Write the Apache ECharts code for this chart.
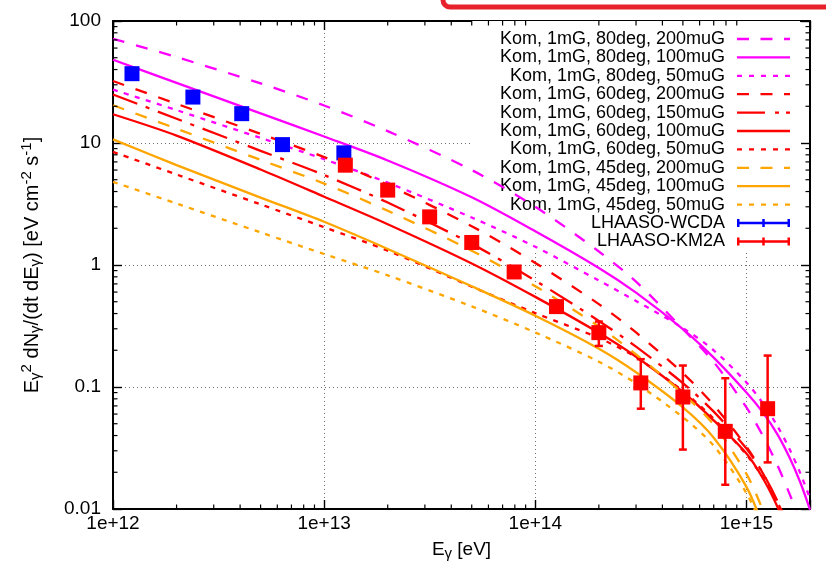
<!DOCTYPE html>
<html>
<head>
<meta charset="utf-8">
<script src="https://cdn.jsdelivr.net/npm/echarts@6/dist/echarts.min.js"></script>
<style>
html,body{margin:0;padding:0;background:#fff;}
#chart{width:826px;height:573px;}
</style>
</head>
<body>
<div id="chart"></div>
<script>
// ---- data ----
const energies = [1e12, 2e12, 5e12, 1e13, 2e13, 5e13, 1e14, 2e14, 3e14, 5e14, 7e14, 1e15, 1.2e15, 1.4e15, 1.6e15, 1.8e15, 2e15];

const kom80_200 = [71.5, 50.6, 30.8, 20.3, 12.5, 6.0, 3.0, 1.29, 0.73, 0.299, 0.160, 0.068, 0.0394, 0.023, 0.0133, 0.0080, 0.0047];
const kom80_100 = [48.1, 31.1, 17.5, 11.3, 7.19, 3.59, 1.89, 0.945, 0.593, 0.298, 0.174, 0.090, 0.0614, 0.0411, 0.0264, 0.0165, 0.0099];
const kom80_50  = [27.4, 18.6, 11.0, 7.36, 4.73, 2.45, 1.41, 0.746, 0.507, 0.304, 0.200, 0.109, 0.073, 0.048, 0.031, 0.0196, 0.0122];
const kom60_200 = [32.2, 20.96, 11.88, 7.67, 4.53, 2.08, 1.04, 0.478, 0.280, 0.130, 0.071, 0.0324, 0.0194, 0.0113, 0.0064, 0.0035, 0.0019];
const kom60_150 = [25, 15.8, 8.63, 5.46, 3.25, 1.49, 0.745, 0.348, 0.214, 0.1075, 0.0628, 0.0313, 0.0195, 0.0117, 0.0068, 0.0038, 0.002];
const kom60_100 = [17.2, 11.5, 6.06, 3.63, 2.16, 1.03, 0.548, 0.278, 0.177, 0.091, 0.0532, 0.0285, 0.0177, 0.0105, 0.006, 0.0033, 0.0018];
const kom60_50  = [8.45, 5.52, 3.14, 2.04, 1.31, 0.664, 0.403, 0.252, 0.175, 0.0925, 0.055, 0.0279, 0.018, 0.0114, 0.0069, 0.004, 0.0023];
const kom45_200 = [20.4, 13.1, 7.27, 4.65, 2.78, 1.31, 0.67, 0.313, 0.185, 0.0882, 0.049, 0.0194, 0.0097, 0.005, 0.0025, 0.0013, 0.0007];
const kom45_100 = [10.7, 6.59, 3.57, 2.26, 1.354, 0.669, 0.384, 0.206, 0.132, 0.068, 0.0384, 0.0152, 0.0073, 0.0037, 0.0018, 0.0009, 0.0005];
const kom45_50  = [4.8, 3.19, 1.85, 1.23, 0.823, 0.458, 0.280, 0.161, 0.107, 0.0565, 0.033, 0.0135, 0.0067, 0.0033, 0.0016, 0.0008, 0.0004];

const wcdaE  = [1.23e12, 2.39e12, 4.07e12, 6.35e12, 1.24e13];
const wcdaV  = [37.0, 23.8, 17.4, 9.7, 8.3];
const wcdaLo = [35.5, 22.8, 16.6, 9.2, 7.8];
const wcdaHi = [38.5, 24.8, 18.2, 10.2, 8.8];

const km2aE  = [1.26e13, 2.0e13, 3.16e13, 5.0e13, 7.94e13, 1.26e14, 2.0e14, 3.16e14, 5.0e14, 7.94e14, 1.26e15];
const km2aV  = [6.58, 4.11, 2.48, 1.53, 0.877, 0.456, 0.279, 0.108, 0.0828, 0.0433, 0.0664];
const km2aLo = [6.2, 3.9, 2.35, 1.45, 0.83, 0.42, 0.217, 0.0664, 0.0307, 0.0158, 0.0241];
const km2aHi = [7.0, 4.35, 2.62, 1.62, 0.93, 0.50, 0.344, 0.169, 0.150, 0.118, 0.181];

const xTickLabels = ['1e+12', '1e+13', '1e+14', '1e+15'];
const yTickLabels = ['0.01', '0.1', '1', '10', '100'];
const mantissas = [2, 3, 4, 5, 6, 7, 8, 9];

// ---- build ----
const FONT = "'Liberation Sans', Arial, Helvetica, sans-serif";
const MAG = '#ff00ff', RED = '#ff0000', ORA = '#ffa500', BLUE = '#0000ff';
const DASH = [12, 12], DOT = [5, 6.5], DASHDOT = [26, 9, 4, 9];

function iconPath(segs, t) {
  return 'path://' + segs.map(s => 'M' + s[0] + ',0L' + s[1] + ',0L' + s[1] + ',' + t + 'L' + s[0] + ',' + t + 'Z').join(' ');
}
const ICON_SOLID = iconPath([[0, 53]], 2.3);
const ICON_DASH = iconPath([[0, 12], [23.5, 35.5], [47, 53]], 2.3);
const ICON_DOT = iconPath([[0, 5], [12, 17], [24, 29], [36, 41], [48, 53]], 2.3);
const ICON_DASHDOT = iconPath([[0, 28], [38, 42], [49, 53]], 2.3);
const ICON_ERR = 'path://M0,2.75L53,2.75L53,5.25L0,5.25Z M0,0L2.5,0L2.5,8L0,8Z M25.25,0L27.75,0L27.75,8L25.25,8Z M50.5,0L53,0L53,8L50.5,8Z';

function curve(name, vals, color, dash) {
  return {
    type: 'line', name: name,
    data: energies.map((e, i) => [e, vals[i]]),
    symbol: 'none', showSymbol: false, smooth: 0.3, clip: true,
    lineStyle: { color: color, width: 2.3, type: dash },
    itemStyle: { color: color },
    z: 2, silent: true
  };
}

const xMinor = [];
for (let d = 12; d <= 15; d++) mantissas.forEach(m => { const v = m * Math.pow(10, d); if (v < 1.99e15) xMinor.push(v); });
const yMinor = [];
for (let d = -2; d <= 1; d++) mantissas.forEach(m => yMinor.push(m * Math.pow(10, d)));

function errBars(E, lo, hi, color) {
  return {
    type: 'custom', silent: true, z: 3,
    data: E.map((e, i) => [e, lo[i], hi[i]]),
    encode: { x: 0, y: [1, 2] },
    renderItem: function (params, api) {
      const e = api.value(0);
      const a = api.coord([e, api.value(1)]);
      const b = api.coord([e, api.value(2)]);
      const w = 4, st = { stroke: color, lineWidth: 2.5 };
      return { type: 'group', children: [
        { type: 'line', shape: { x1: a[0], y1: a[1], x2: b[0], y2: b[1] }, style: st },
        { type: 'line', shape: { x1: a[0] - w, y1: a[1], x2: a[0] + w, y2: a[1] }, style: st },
        { type: 'line', shape: { x1: b[0] - w, y1: b[1], x2: b[0] + w, y2: b[1] }, style: st }
      ] };
    }
  };
}

function minorTicks(vals, isX) {
  return {
    type: 'custom', silent: true, z: 5, clip: false,
    data: vals.map(v => isX ? [v, 1] : [1e13, v]),
    renderItem: function (params, api) {
      const cs = params.coordSys;
      const p = api.coord([api.value(0), api.value(1)]);
      const L = 4.5, st = { stroke: '#000', lineWidth: 1.2 };
      if (isX) {
        return { type: 'group', children: [
          { type: 'line', shape: { x1: p[0], y1: cs.y + cs.height, x2: p[0], y2: cs.y + cs.height - L }, style: st },
          { type: 'line', shape: { x1: p[0], y1: cs.y, x2: p[0], y2: cs.y + L }, style: st }
        ] };
      }
      return { type: 'group', children: [
        { type: 'line', shape: { x1: cs.x, y1: p[1], x2: cs.x + L, y2: p[1] }, style: st },
        { type: 'line', shape: { x1: cs.x + cs.width, y1: p[1], x2: cs.x + cs.width - L, y2: p[1] }, style: st }
      ] };
    }
  };
}

function decadeLabel(v, labels, minExp) {
  const l = Math.log10(v), r = Math.round(l);
  if (Math.abs(l - r) > 1e-6) return '';
  return labels[r - minExp] || '';
}

const names = [
  'Kom, 1mG, 80deg, 200muG', 'Kom, 1mG, 80deg, 100muG', 'Kom, 1mG, 80deg, 50muG',
  'Kom, 1mG, 60deg, 200muG', 'Kom, 1mG, 60deg, 150muG', 'Kom, 1mG, 60deg, 100muG', 'Kom, 1mG, 60deg, 50muG',
  'Kom, 1mG, 45deg, 200muG', 'Kom, 1mG, 45deg, 100muG', 'Kom, 1mG, 45deg, 50muG'
];
const icons = [ICON_DASH, ICON_SOLID, ICON_DOT, ICON_DASH, ICON_DASHDOT, ICON_SOLID, ICON_DOT, ICON_DASH, ICON_SOLID, ICON_DOT];

const series = [
  curve(names[0], kom80_200, MAG, DASH),
  curve(names[1], kom80_100, MAG, 'solid'),
  curve(names[2], kom80_50, MAG, DOT),
  curve(names[3], kom60_200, RED, DASH),
  curve(names[4], kom60_150, RED, DASHDOT),
  curve(names[5], kom60_100, RED, 'solid'),
  curve(names[6], kom60_50, RED, DOT),
  curve(names[7], kom45_200, ORA, DASH),
  curve(names[8], kom45_100, ORA, 'solid'),
  curve(names[9], kom45_50, ORA, DOT),
  errBars(wcdaE, wcdaLo, wcdaHi, BLUE),
  errBars(km2aE, km2aLo, km2aHi, RED),
  { type: 'scatter', name: 'LHAASO-WCDA', data: wcdaE.map((e, i) => [e, wcdaV[i]]),
    symbol: 'rect', symbolSize: 15, itemStyle: { color: BLUE, opacity: 1 }, z: 4, silent: true },
  { type: 'scatter', name: 'LHAASO-KM2A', data: km2aE.map((e, i) => [e, km2aV[i]]),
    symbol: 'rect', symbolSize: 15, itemStyle: { color: RED, opacity: 1 }, z: 4, silent: true },
  minorTicks(xMinor, true),
  minorTicks(yMinor, false)
];

const axisBase = {
  type: 'log', logBase: 10,
  axisLine: { show: true, onZero: false, lineStyle: { color: '#000', width: 2 } },
  axisTick: { show: true, inside: true, length: 9, lineStyle: { color: '#000', width: 1.4 } },
  minorTick: { show: false }
};

const richX = {
  b: { fontSize: 19, fontFamily: FONT, color: '#000' },
  sub: { fontSize: 15, fontFamily: FONT, color: '#000', padding: [8, 0, 0, 0] }
};
const richY = {
  b: { fontSize: 20, fontFamily: FONT, color: '#000' },
  sub: { fontSize: 15, fontFamily: FONT, color: '#000', padding: [8, 0, 0, 0] },
  sup: { fontSize: 15, fontFamily: FONT, color: '#000', padding: [0, 0, 11, 0] }
};

const option = {
  animation: false,
  backgroundColor: '#fff',
  textStyle: { fontFamily: FONT },
  grid: { left: 113, right: 16, top: 21, bottom: 64 },
  xAxis: [
    Object.assign({}, axisBase, {
      min: 1e12, max: 2e15, position: 'bottom',
      axisLabel: { show: true, margin: 5, fontSize: 19, fontFamily: FONT, color: '#000',
        formatter: v => decadeLabel(v, xTickLabels, 12) },
      splitLine: { show: true, lineStyle: { color: '#707070', width: 1, type: [1, 3] } },
      name: '{b|E}{sub|γ}{b| [eV]}', nameLocation: 'middle', nameGap: 29,
      nameTextStyle: { rich: richX }
    }),
    Object.assign({}, axisBase, {
      min: 1e12, max: 2e15, position: 'top',
      axisLabel: { show: false }, splitLine: { show: false }
    })
  ],
  yAxis: [
    Object.assign({}, axisBase, {
      min: 0.01, max: 100, position: 'left',
      axisLabel: { show: true, margin: 12, fontSize: 19, fontFamily: FONT, color: '#000',
        formatter: v => decadeLabel(v, yTickLabels, -2) },
      splitLine: { show: true, lineStyle: { color: '#707070', width: 1, type: [1, 3] } },
      name: '{b|E}{sub|γ}{sup|2}{b| dN}{sub|γ}{b|/(dt dE}{sub|γ}{b|) [eV cm}{sup|-2}{b| s}{sup|-1}{b|]}',
      nameLocation: 'middle', nameGap: 68, nameRotate: 90,
      nameTextStyle: { rich: richY }
    }),
    Object.assign({}, axisBase, {
      min: 0.01, max: 100, position: 'right',
      axisLabel: { show: false }, splitLine: { show: false }
    })
  ],
  legend: {
    show: true, orient: 'vertical', align: 'right',
    right: 26, top: 21, padding: [9, 10, 2, 28],
    backgroundColor: '#ffffff', z: 1,
    itemWidth: 53, itemHeight: 14, itemGap: 0.4,
    selectedMode: false, symbolKeepAspect: true,
    textStyle: { fontSize: 18, fontFamily: FONT, color: '#000', lineHeight: 18, padding: [0, 7, 0, 0] },
    data: names.map((n, i) => ({ name: n, icon: icons[i] })).concat([
      { name: 'LHAASO-WCDA', icon: ICON_ERR },
      { name: 'LHAASO-KM2A', icon: ICON_ERR }
    ])
  },
  graphic: [{
    type: 'rect', silent: true, z: 100,
    shape: { x: 443, y: -40, width: 420, height: 47, r: 7 },
    style: { fill: 'none', stroke: '#e8222b', lineWidth: 5 }
  }],
  series: series
};

const chart = echarts.init(document.getElementById('chart'), null, { renderer: 'canvas' });
chart.setOption(option);
</script>
</body>
</html>
